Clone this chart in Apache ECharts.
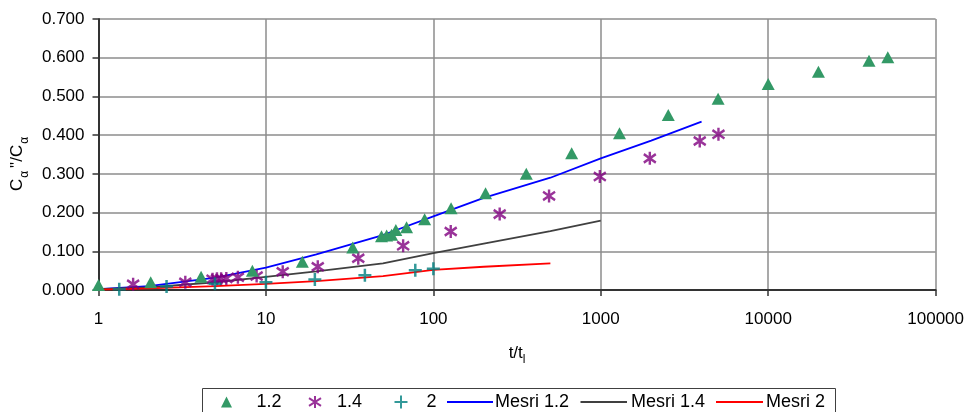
<!DOCTYPE html>
<html>
<head>
<meta charset="utf-8">
<script src="https://cdn.jsdelivr.net/npm/echarts@6/dist/echarts.min.js"></script>
<style>
html,body{margin:0;padding:0;background:#fff;}
#chart{width:967px;height:412px;}
</style>
</head>
<body>
<div id="chart"></div>
<script>
// ---- data (t/t_l , Cα''/Cα) ----
const xTicks = [1, 10, 100, 1000, 10000, 100000];
const yTicks = [0, 0.1, 0.2, 0.3, 0.4, 0.5, 0.6, 0.7];

const s12 = [[1,0.013],[2.05,0.02],[4.1,0.034],[8.3,0.05],[16.5,0.073],[33,0.11],[49,0.139],[52.6,0.141],[56.3,0.143],[59.7,0.155],[69.2,0.162],[88.7,0.183],[127.6,0.211],[205,0.25],[359,0.30],[670,0.353],[1294,0.405],[2530,0.452],[5020,0.494],[10000,0.532],[19950,0.564],[40000,0.592],[51800,0.601]];
const s14 = [[1.61,0.015],[3.3,0.02],[4.8,0.028],[5.1,0.029],[5.4,0.029],[5.8,0.03],[6.8,0.033],[8.8,0.036],[12.6,0.047],[20.4,0.06],[35.6,0.082],[66,0.114],[127,0.151],[249,0.196],[491,0.243],[987,0.293],[1963,0.340],[3900,0.385],[5045,0.402]];
const s2 = [[1.33,0.002],[2.55,0.009],[4.96,0.016],[10,0.02],[19.6,0.027],[39,0.038],[78,0.051],[100,0.055]];

const mesri12 = [[1,0.002],[2,0.010],[5,0.032],[10,0.058],[20,0.092],[50,0.142],[100,0.19],[200,0.238],[500,0.29],[1000,0.34],[2000,0.386],[4000,0.435]];
const mesri14 = [[1,0.002],[2,0.007],[5,0.02],[10,0.034],[20,0.048],[50,0.069],[100,0.095],[200,0.12],[500,0.152],[1000,0.179]];
const mesri2 = [[1,0.001],[2,0.004],[5,0.01],[10,0.016],[20,0.023],[50,0.036],[100,0.052],[200,0.06],[500,0.069]];

const seriesNames = ['1.2','1.4','2','Mesri 1.2','Mesri 1.4','Mesri 2'];

const FONT = "'Liberation Sans', Arial, sans-serif";
const TRI = 'path://M5,0 L10,10 L0,10 Z';
const AST = 'path://M5,0 L5,10 M0,1.8 L10,8.2 M0,8.2 L10,1.8';
const PLUS = 'path://M5,0 L5,10 M0,5 L10,5';

// legend item layout: [name, left, itemWidth, itemHeight, textPadLeft, icon]
const legendLayout = [
  [seriesNames[0], 221, 12, 11, 19, null],
  [seriesNames[1], 308, 12, 12, 11, null],
  [seriesNames[2], 393.5, 13, 13, 14, null],
  [seriesNames[3], 447, 46, 2, -3, 'rect'],
  [seriesNames[4], 580.5, 46.5, 2, -1, 'rect'],
  [seriesNames[5], 716, 47, 2, -2, 'rect']
];
const legends = legendLayout.map(([name,left,w,h,pad,icon]) => {
  const l = {
    left:left, top:393, padding:0, itemWidth:w, itemHeight:h,
    textStyle:{fontSize:18, color:'#000', fontFamily:FONT, padding:[0,0,0,pad]},
    data:[name], selectedMode:false
  };
  if (icon) l.icon = icon;
  return l;
});

const chart = echarts.init(document.getElementById('chart'), null, {renderer:'canvas'});
chart.setOption({
  animation:false,
  backgroundColor:'#fff',
  textStyle:{fontFamily:FONT},
  grid:{left:98.5, right:31, top:19, bottom:122, containLabel:false},
  graphic:[{
    type:'rect', left:202, top:388, z:0, silent:true,
    shape:{width:633, height:40},
    style:{fill:'#fff', stroke:'#404040', lineWidth:1}
  }],
  xAxis:{
    type:'log', logBase:10, min:xTicks[0], max:xTicks[xTicks.length-1],
    name:'t/t{s|l}', nameLocation:'middle', nameGap:50,
    nameTextStyle:{fontSize:17, color:'#000', fontFamily:FONT,
      rich:{s:{fontSize:12, color:'#000', fontFamily:FONT, verticalAlign:'bottom', lineHeight:26}}},
    axisLine:{show:true, onZero:false, lineStyle:{color:'#333', width:2}},
    axisTick:{show:true, length:6, lineStyle:{color:'#333', width:1.5}},
    minorTick:{show:false},
    axisLabel:{fontSize:17, color:'#000', margin:21, fontFamily:FONT,
      formatter:v=>String(Math.round(v))},
    splitLine:{show:true, lineStyle:{color:'#8c8c8c', width:1.5}}
  },
  yAxis:{
    type:'value', min:yTicks[0], max:yTicks[yTicks.length-1], interval:0.1,
    name:'C{s|α}"/C{s|α}', nameLocation:'middle', nameGap:68,
    nameTextStyle:{fontSize:17, color:'#000', fontFamily:FONT, padding:[0,16,0,0],
      rich:{s:{fontSize:12, color:'#000', fontFamily:FONT, verticalAlign:'bottom', lineHeight:26, padding:[0,3,0,1]}}},
    axisLine:{show:true, lineStyle:{color:'#333', width:2}},
    axisTick:{show:true, length:6, lineStyle:{color:'#333', width:1.5}},
    axisLabel:{fontSize:17, color:'#000', margin:14, fontFamily:FONT,
      formatter:v=>v.toFixed(3)},
    splitLine:{show:true, lineStyle:{color:'#8c8c8c', width:1.5}}
  },
  legend:legends,
  series:[
    {name:seriesNames[0], type:'scatter', data:s12, symbol:TRI, symbolSize:[13,12],
      itemStyle:{color:'#339966', opacity:1}, z:5},
    {name:seriesNames[1], type:'scatter', data:s14, symbol:AST, symbolSize:[12,13],
      itemStyle:{color:'#800080', borderColor:'#800080', borderWidth:2.5}, z:4},
    {name:seriesNames[2], type:'scatter', data:s2, symbol:PLUS, symbolSize:[13,13],
      itemStyle:{color:'#008080', borderColor:'#008080', borderWidth:2.5}, z:4},
    {name:seriesNames[3], type:'line', data:mesri12, symbol:'none', showSymbol:false,
      lineStyle:{color:'#0000ff', width:1.8}, itemStyle:{color:'#0000ff'}, z:3},
    {name:seriesNames[4], type:'line', data:mesri14, symbol:'none', showSymbol:false,
      lineStyle:{color:'#404040', width:1.8}, itemStyle:{color:'#404040'}, z:3},
    {name:seriesNames[5], type:'line', data:mesri2, symbol:'none', showSymbol:false,
      lineStyle:{color:'#ff0000', width:1.8}, itemStyle:{color:'#ff0000'}, z:3}
  ]
});
</script>
</body>
</html>
